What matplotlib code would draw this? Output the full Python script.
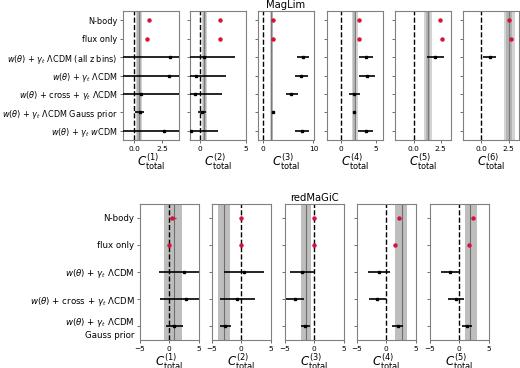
import numpy as np
import matplotlib
matplotlib.use("Agg")
import matplotlib.pyplot as plt

nan = np.nan

# ---------------- MagLim ----------------
mag_rows = [
    "N-body",
    "flux only",
    r"$w(\theta)$ + $\gamma_t$ $\Lambda$CDM (all z bins)",
    r"$w(\theta)$ + $\gamma_t$ $\Lambda$CDM",
    r"$w(\theta)$ + cross + $\gamma_t$ $\Lambda$CDM",
    r"$w(\theta)$ + $\gamma_t$ $\Lambda$CDM Gauss prior",
    r"$w(\theta)$ + $\gamma_t$ $w$CDM",
]
mag_nbody = [1.31, 2.12, 2.14, 2.53, 2.45, 2.56]
mag_flux = [1.19, 2.15, 2.14, 2.53, 2.60, 2.71]
# per bin: rows (all z, wg, cross, gauss, wcdm) -> centre, low, high
mag_center = [
    [3.24, 3.15, 0.58, 0.52, 2.72],
    [0.40, -0.47, -0.58, 0.19, -0.97],
    [7.94, 7.60, 5.68, 2.14, 7.68],
    [3.57, 3.76, 1.86, 1.90, 3.53],
    [2.00, nan, nan, nan, nan],
    [0.77, nan, nan, nan, nan],
]
mag_low = [
    [-2.5, -2.5, -3.5, 0.06, -3.0],
    [-3.0, -3.5, -3.5, -0.25, -3.0],
    [6.8, 6.3, 4.6, 1.9, 6.3],
    [2.57, 2.57, 1.10, 1.70, 2.47],
    [1.20, nan, nan, nan, nan],
    [0.16, nan, nan, nan, nan],
]
mag_high = [
    [9.0, 9.0, 5.0, 0.92, 8.5],
    [3.76, 2.84, 2.41, 0.63, 1.94],
    [9.2, 8.9, 6.9, 2.4, 9.1],
    [4.53, 4.86, 2.71, 2.10, 4.53],
    [2.84, nan, nan, nan, nan],
    [1.32, nan, nan, nan, nan],
]
mag_band_c = [0.43, 0.45, 1.75, 2.00, 1.36, 2.53]
mag_band_in = [(0.30, 0.60), (0.32, 0.62), (1.57, 1.95), (1.75, 2.20), (1.17, 1.54), (2.25, 2.84)]
mag_band_out = [(0.15, 0.73), (0.19, 0.77), (1.40, 2.14), (1.53, 2.39), (0.95, 1.73), (2.04, 3.06)]
mag_xlim = [(-1.0, 4.05), (-1.1, 5.0), (-0.9, 10.1), (-2.0, 6.0), (-1.75, 3.45), (-1.7, 3.45)]
mag_xticks = [[0, 2.5], [0, 5], [0, 10], [0, 5], [0, 2.5], [0, 2.5]]
mag_xticklabels = [["0.0", "2.5"], ["0", "5"], ["0", "10"], ["0", "5"], ["0.0", "2.5"], ["0.0", "2.5"]]

# ---------------- redMaGiC ----------------
red_rows = [
    "N-body",
    "flux only",
    r"$w(\theta)$ + $\gamma_t$ $\Lambda$CDM",
    r"$w(\theta)$ + cross + $\gamma_t$ $\Lambda$CDM",
    "$w(\\theta)$ + $\\gamma_t$ $\\Lambda$CDM\nGauss prior",
]
red_nbody = [0.40, 0.0, 0.0, 2.23, 2.32]
red_nbody_low = [-0.10, -0.1, -0.1, 2.1, 2.2]
red_nbody_high = [1.10, 0.1, 0.1, 2.35, 2.45]
red_flux = [0.0, 0.0, 0.0, 1.43, 1.64]
red_center = [
    [2.57, 2.80, 0.80],
    [0.51, -0.68, -2.73],
    [-2.07, -3.28, -1.50],
    [-1.20, -1.54, 1.99],
    [-1.58, -0.62, 1.36],
]
red_low = [
    [-1.72, -1.60, -0.57],
    [-2.90, -3.63, -3.69],
    [-4.20, -4.83, -2.24],
    [-3.15, -2.98, 0.96],
    [-3.15, -1.92, 0.46],
]
red_high = [
    [6.0, 6.0, 2.29],
    [3.92, 2.27, -1.75],
    [0.0, -1.79, -0.81],
    [0.62, -0.12, 2.80],
    [0.0, 0.75, 2.15],
]
red_band_c = [0.74, -3.00, -1.38, 2.63, 1.86]
red_band = [(-0.90, 2.23), (-3.98, -1.87), (-2.31, -0.52), (1.43, 3.60), (0.96, 3.00)]
red_xlim = (-5, 5)
red_xticks = [-5, 0, 5]

W, H = 520, 368
fig = plt.figure(figsize=(W / 100, H / 100), dpi=100)

def px_axes(left, top, right, bottom):
    return fig.add_axes([left / W, 1 - bottom / H, (right - left) / W, (bottom - top) / H])

RED = "#d6133a"
TICK_FS = 5.3
XL_FS = 8.5

def style(ax):
    for s in ax.spines.values():
        s.set_color("#808080")
        s.set_linewidth(0.8)
    ax.tick_params(axis="both", labelsize=TICK_FS, length=2, width=0.6, color="#555555", pad=2)

# MagLim axes
mag_lefts = [123, 190, 258, 327, 395, 463]
mag_w = 56
for i, l in enumerate(mag_lefts):
    ax = px_axes(l, 11, l + mag_w, 140)
    style(ax)
    n = len(mag_rows)
    ax.axvspan(*mag_band_out[i], color="#d3d3d3", lw=0, zorder=0)
    ax.axvspan(*mag_band_in[i], color="#b4b4b4", lw=0, zorder=0)
    ax.axvline(mag_band_c[i], color="#7a7a7a", lw=0.8, zorder=1)
    ax.axvline(0, color="black", ls="--", lw=1.0, zorder=2)
    ax.plot([mag_nbody[i], mag_flux[i]], [0, 1], "o", color=RED, ms=2.2, zorder=4)
    c = np.array(mag_center[i]); lo = np.array(mag_low[i]); hi = np.array(mag_high[i])
    ys = np.arange(2, n)
    ax.errorbar(c, ys, xerr=[c - lo, hi - c], fmt="s", color="black", ms=2.0,
                elinewidth=1.2, capsize=0, zorder=3)
    ax.set_ylim(n - 0.5, -0.5)
    ax.set_yticks(np.arange(n))
    if i == 0:
        ax.set_yticklabels(mag_rows, fontsize=5.9)
    else:
        ax.set_yticklabels([])
    ax.set_xlim(*mag_xlim[i])
    ax.set_xticks(mag_xticks[i])
    ax.set_xticklabels(mag_xticklabels[i])
    ax.set_xlabel(r"$C^{(%d)}_{\rm total}$" % (i + 1), fontsize=XL_FS, labelpad=0)
    if i == 2:
        ax.set_title("MagLim", fontsize=7.2, pad=2)

# redMaGiC axes
red_lefts = [140, 212, 285, 357, 430]
red_w = 58.5
for i, l in enumerate(red_lefts):
    ax = px_axes(l, 204, l + red_w, 340)
    style(ax)
    n = len(red_rows)
    ax.axvspan(*red_band[i], color="#bebebe", lw=0, zorder=0)
    ax.axvline(red_band_c[i], color="#6f6f6f", lw=0.8, zorder=1)
    ax.axvline(0, color="black", ls="--", lw=1.0, zorder=2)
    ax.errorbar([red_nbody[i]], [0],
                xerr=[[red_nbody[i] - red_nbody_low[i]], [red_nbody_high[i] - red_nbody[i]]],
                fmt="o", color=RED, ms=2.2, elinewidth=1.0, capsize=0, zorder=4)
    ax.plot([red_flux[i]], [1], "o", color=RED, ms=2.2, zorder=4)
    c = np.array(red_center[i]); lo = np.array(red_low[i]); hi = np.array(red_high[i])
    ys = np.arange(2, n)
    ax.errorbar(c, ys, xerr=[c - lo, hi - c], fmt="s", color="black", ms=2.0,
                elinewidth=1.2, capsize=0, zorder=3)
    ax.set_ylim(n - 0.5, -0.5)
    ax.set_yticks(np.arange(n))
    if i == 0:
        ax.set_yticklabels(red_rows, fontsize=6.2)
    else:
        ax.set_yticklabels([])
    ax.set_xlim(*red_xlim)
    ax.set_xticks(red_xticks)
    ax.set_xlabel(r"$C^{(%d)}_{\rm total}$" % (i + 1), fontsize=XL_FS, labelpad=0)
    if i == 2:
        ax.set_title("redMaGiC", fontsize=7.2, pad=2)

fig.savefig("out.png", dpi=100)
